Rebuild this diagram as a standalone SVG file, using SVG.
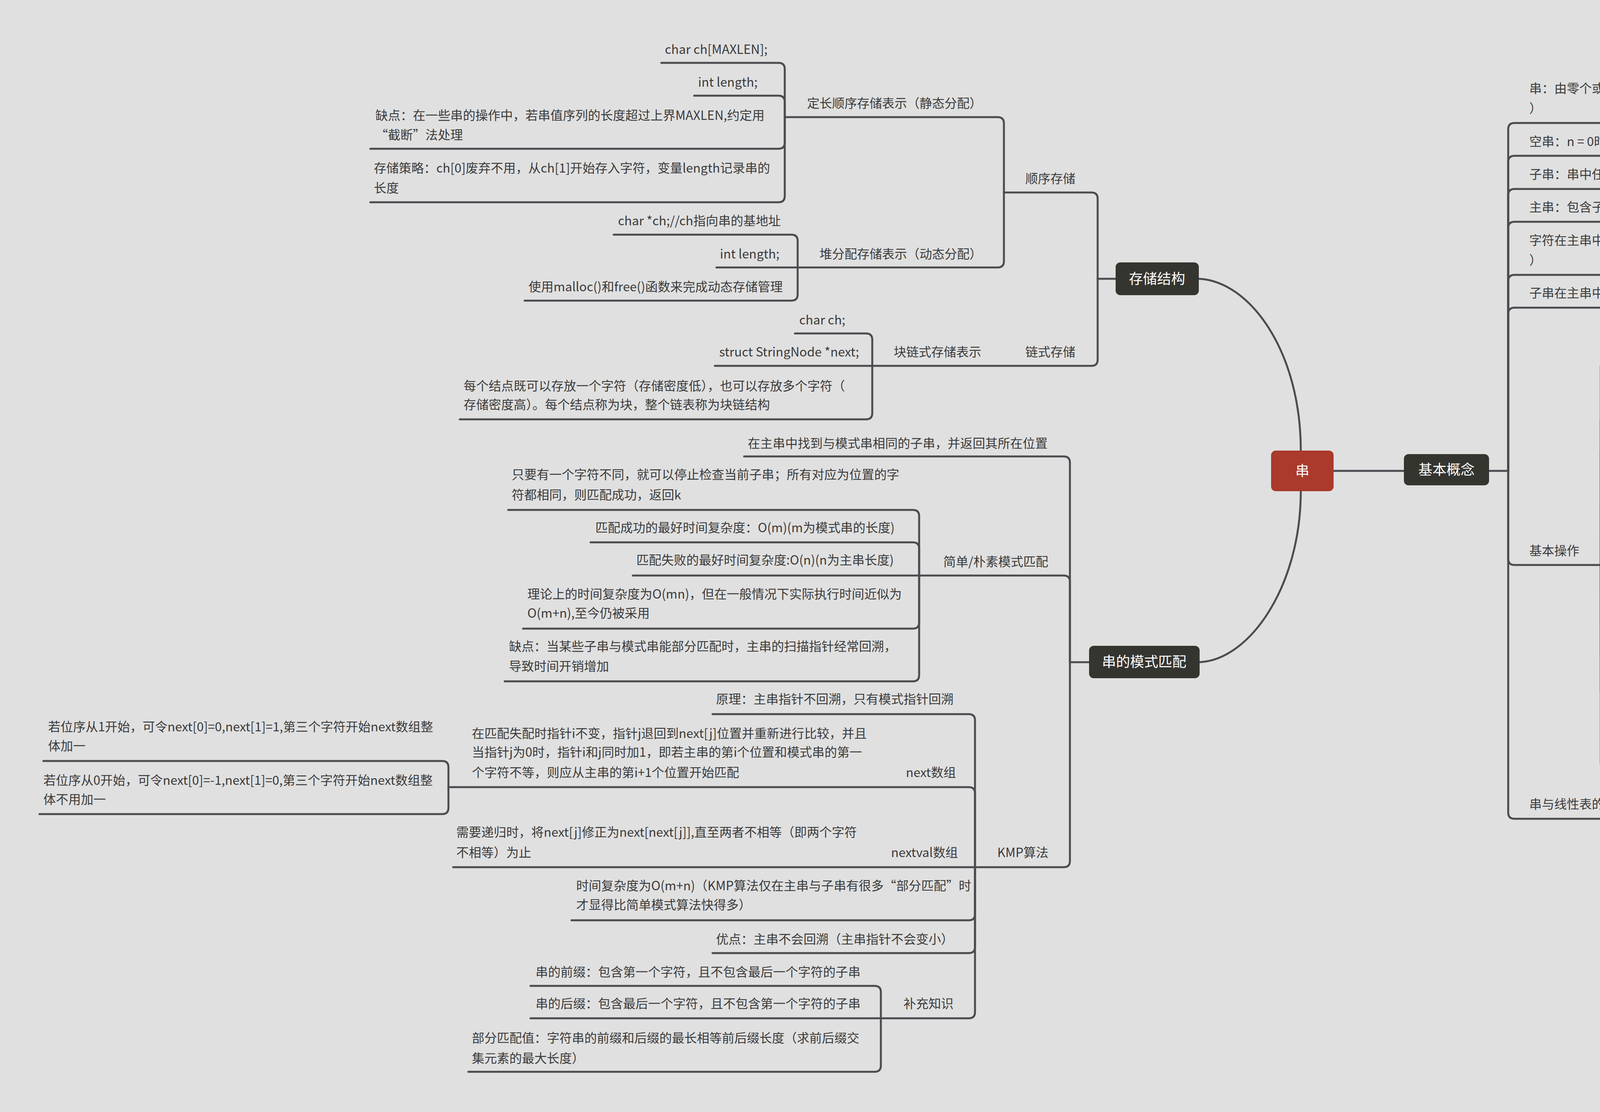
<svg xmlns="http://www.w3.org/2000/svg" width="6226" height="2848" viewBox="0 0 6226 2848">
<style>
.l{fill:none;stroke:#4b4b50;stroke-width:5;stroke-linecap:round}
text{font-family:"Noto Sans CJK SC","Noto Sans",sans-serif;font-size:32px;fill:#3a3a3a}
.n{fill:#ffffff;font-size:36px;text-anchor:middle}
.dk{fill:#353530}
</style>
<rect width="6226" height="2848" fill="#e0e0e0"/>
<g id="connectors">
<path class="l" d="M3069 714 C3200 720 3330 900 3330 1154"/>
<path class="l" d="M3071 1696 C3200 1690 3330 1500 3330 1258"/>
<path class="l" d="M3414 1206 H3594"/>
<path class="l" d="M3812 1206 H3861"/>
<path class="l" d="M3861 1206 V331 Q3861 315 3877 315 H4918"/>
<path class="l" d="M3861 1206 V415 Q3861 399 3877 399 H4639"/>
<path class="l" d="M3861 1206 V500 Q3861 484 3877 484 H4532"/>
<path class="l" d="M3861 1206 V584 Q3861 568 3877 568 H4213"/>
<path class="l" d="M3861 1206 V720 Q3861 704 3877 704 H4921"/>
<path class="l" d="M3861 1206 V804 Q3861 788 3877 788 H4723"/>
<path class="l" d="M3861 1206 V1431 Q3861 1447 3877 1447 H4098"/>
<path class="l" d="M3861 1206 V2081 Q3861 2097 3877 2097 H4227"/>
<path class="l" d="M4098 1447 V940 Q4098 924 4114 924 H5196"/>
<path class="l" d="M4098 1447 V1075 Q4098 1059 4114 1059 H5135"/>
<path class="l" d="M4098 1447 V1160 Q4098 1144 4114 1144 H5037"/>
<path class="l" d="M4098 1447 V1295 Q4098 1279 4114 1279 H5426"/>
<path class="l" d="M4098 1447 V1379 Q4098 1363 4114 1363 H4336"/>
<path class="l" d="M4098 1447 H4438"/>
<path class="l" d="M4098 1447 V1515 Q4098 1531 4114 1531 H4361"/>
<path class="l" d="M4098 1447 V1598 Q4098 1614 4114 1614 H4328"/>
<path class="l" d="M4098 1447 V1683 Q4098 1699 4114 1699 H4382"/>
<path class="l" d="M4098 1447 V1767 Q4098 1783 4114 1783 H4418"/>
<path class="l" d="M4098 1447 V1954 Q4098 1970 4114 1970 H5157"/>
<path class="l" d="M5196 924 V830 Q5196 814 5212 814 H6127"/>
<path class="l" d="M5196 924 V914 Q5196 898 5212 898 H5775"/>
<path class="l" d="M5196 924 V965 Q5196 981 5212 981 H5711"/>
<path class="l" d="M4227 2097 V2071 Q4227 2055 4243 2055 H5251"/>
<path class="l" d="M4227 2097 V2123 Q4227 2139 4243 2139 H5283"/>
<path class="l" d="M2856 714 H2810"/>
<path class="l" d="M2810 714 V509 Q2810 493 2794 493 H2570"/>
<path class="l" d="M2810 714 V921 Q2810 937 2794 937 H2233"/>
<path class="l" d="M2570 493 V316 Q2570 300 2554 300 H2009"/>
<path class="l" d="M2570 493 V669 Q2570 685 2554 685 H2042"/>
<path class="l" d="M2009 300 V177 Q2009 161 1993 161 H1693"/>
<path class="l" d="M2009 300 V261 Q2009 245 1993 245 H1777"/>
<path class="l" d="M2009 300 V365 Q2009 381 1993 381 H948"/>
<path class="l" d="M2009 300 V502 Q2009 518 1993 518 H948"/>
<path class="l" d="M2042 685 V617 Q2042 601 2026 601 H1571"/>
<path class="l" d="M2042 685 H1834"/>
<path class="l" d="M2042 685 V754 Q2042 770 2026 770 H1343"/>
<path class="l" d="M2233 937 V870 Q2233 854 2217 854 H2035"/>
<path class="l" d="M2233 937 H1830"/>
<path class="l" d="M2233 937 V1058 Q2233 1074 2217 1074 H1177"/>
<path class="l" d="M2788 1696 H2739"/>
<path class="l" d="M2739 1696 V1185 Q2739 1169 2723 1169 H1905"/>
<path class="l" d="M2739 1696 V1490 Q2739 1474 2723 1474 H2353"/>
<path class="l" d="M2739 1696 V2205 Q2739 2221 2723 2221 H2496"/>
<path class="l" d="M2353 1474 V1322 Q2353 1306 2337 1306 H1301"/>
<path class="l" d="M2353 1474 V1405 Q2353 1389 2337 1389 H1512"/>
<path class="l" d="M2353 1474 H1620"/>
<path class="l" d="M2353 1474 V1594 Q2353 1610 2337 1610 H1339"/>
<path class="l" d="M2353 1474 V1729 Q2353 1745 2337 1745 H1292"/>
<path class="l" d="M2496 2221 V1845 Q2496 1829 2480 1829 H1824"/>
<path class="l" d="M2496 2221 V2032 Q2496 2016 2480 2016 H1148"/>
<path class="l" d="M2496 2221 H1160"/>
<path class="l" d="M2496 2221 V2341 Q2496 2357 2480 2357 H1463"/>
<path class="l" d="M2496 2221 V2425 Q2496 2441 2480 2441 H1824"/>
<path class="l" d="M2496 2221 V2592 Q2496 2608 2480 2608 H2255"/>
<path class="l" d="M1148 2016 V1965 Q1148 1949 1132 1949 H111"/>
<path class="l" d="M1148 2016 V2069 Q1148 2085 1132 2085 H101"/>
<path class="l" d="M2255 2608 V2541 Q2255 2525 2239 2525 H1358"/>
<path class="l" d="M2255 2608 H1358"/>
<path class="l" d="M2255 2608 V2729 Q2255 2745 2239 2745 H1199"/>
</g>
<g id="n-root"><rect x="3254" y="1154" width="160" height="104" rx="12" fill="#a93a2c"/><text class="n" x="3334" y="1219" font-size="40">串</text></g>
<g id="n-storage"><rect class="dk" x="2856" y="672" width="213" height="84" rx="12"/><text class="n" x="2962" y="727">存储结构</text></g>
<g id="n-concept"><rect class="dk" x="3594" y="1163" width="218" height="80" rx="12"/><text class="n" x="3703" y="1216">基本概念</text></g>
<g id="n-match"><rect class="dk" x="2788" y="1654" width="283" height="83" rx="12"/><text class="n" x="2929" y="1708">串的模式匹配</text></g>
<g id="right-texts">
<text x="3915" y="238">串：由零个或多个字符组成的有限序列（可以为字母、数字或其他字符<tspan x="3915" y="289">）</tspan></text>
<text x="3915" y="374">空串：n = 0时的串（注意：空串与空格串的区别）</text>
<text x="3915" y="458">子串：串中任意个连续的字符组成的子序列</text>
<text x="3915" y="542">主串：包含子串的串</text>
<text x="3915" y="627">字符在主串中的位置：字符在串中的序号（位序从1开始而不是从0开始<tspan x="3915" y="678">）</tspan></text>
<text x="3915" y="762">子串在主串中的位置：子串的第一个字符在主串中的位置</text>
<text x="3915" y="1422">基本操作</text>
<text x="4155" y="847">StrCompare(S,T)：比较操作。若S&gt;T，则返回值&gt;0；若S=T，则返回值<tspan x="4155" y="897">=0；若S&lt;T，则返回值&lt;0</tspan></text>
<text x="5251" y="788">从第一个字符开始往后依次对比，先出现更大字符的串就更大</text>
<text x="5251" y="872">长串的前缀与短串相同时，长串更大</text>
<text x="5251" y="957">只有两个串完全相同时，才相等</text>
<text x="4155" y="982">SubString(&amp;Sub,S,pos,len)：求子串。用Sub返回串S的第pos个字符起<tspan x="4155" y="1034">长度为len的子串</tspan></text>
<text x="4155" y="1118">Concat(&amp;T,S1,S2)：串联接。用T返回由S1和S2联接而成的新串</text>
<text x="4155" y="1254">Index(S,T)：</text>
<text x="4435" y="1202">定位操作。若主串S中存在与串T值相同的子串，则返回它在主串S中第<tspan x="4435" y="1254">一次出现的位置；否则函数值为零</tspan></text>
<text x="4155" y="1336">StrLength(S)</text>
<text x="4155" y="1421">StrAssign(&amp;T,chars)</text>
<text x="4155" y="1505">StrCopy(&amp;T,S)</text>
<text x="4155" y="1589">StrEmpty(S)</text>
<text x="4155" y="1672">ClearString(&amp;S)</text>
<text x="4155" y="1756">DestroyString(&amp;S)</text>
<text x="4155" y="1841">注意点：上述定义操作中，串赋值、串比较、求串长、串联接和求子串<tspan x="4155" y="1892">五种操作构成串类型的最小操作子集，即这些操作不可能利用其他串操</tspan><tspan x="4155" y="1942">作来实现；其他串均可在该最小操作子集上实现</tspan></text>
<text x="3915" y="2071">串与线性表的区别</text>
<text x="4285" y="2028">串的数据对象限定为字符集，线性表的数据对象的数据类型相同即可</text>
<text x="4285" y="2114">串的基本操作大多以子串为操作对象，线性表以单个元素作为操作对象</text>
</g>
<g id="storage-texts">
<text x="2625" y="469">顺序存储</text>
<text x="2066" y="276">定长顺序存储表示（静态分配）</text>
<text x="1702" y="138">char ch[MAXLEN];</text>
<text x="1787" y="222">int length;</text>
<text x="961" y="307">缺点：在一些串的操作中，若串值序列的长度超过上界MAXLEN,约定用<tspan x="961" y="357">“截断”法处理</tspan></text>
<text x="957" y="442">存储策略：ch[0]废弃不用，从ch[1]开始存入字符，变量length记录串的<tspan x="957" y="493">长度</tspan></text>
<text x="2098" y="662">堆分配存储表示（动态分配）</text>
<text x="1582" y="577">char *ch;//ch指向串的基地址</text>
<text x="1843" y="662">int length;</text>
<text x="1353" y="746">使用malloc()和free()函数来完成动态存储管理</text>
<text x="2625" y="913">链式存储</text>
<text x="2288" y="913">块链式存储表示</text>
<text x="2046" y="831">char ch;</text>
<text x="1841" y="913">struct StringNode *next;</text>
<text x="1187" y="1000">每个结点既可以存放一个字符（存储密度低），也可以存放多个字符（<tspan x="1187" y="1048">存储密度高）。每个结点称为块，整个链表称为块链结构</tspan></text>
</g>
<g id="match-texts">
<text x="1914" y="1147">在主串中找到与模式串相同的子串，并返回其所在位置</text>
<text x="2415" y="1450">简单/朴素模式匹配</text>
<text x="1310" y="1227">只要有一个字符不同，就可以停止检查当前子串；所有对应为位置的字<tspan x="1310" y="1279">符都相同，则匹配成功，返回k</tspan></text>
<text x="1524" y="1363">匹配成功的最好时间复杂度：O(m)(m为模式串的长度)</text>
<text x="1629" y="1446">匹配失败的最好时间复杂度:O(n)(n为主串长度)</text>
<text x="1350" y="1533">理论上的时间复杂度为O(mn)，但在一般情况下实际执行时间近似为<tspan x="1350" y="1582">O(m+n),至今仍被采用</tspan></text>
<text x="1303" y="1667">缺点：当某些子串与模式串能部分匹配时，主串的扫描指针经常回溯，<tspan x="1303" y="1718">导致时间开销增加</tspan></text>
<text x="2553" y="2195">KMP算法</text>
<text x="1833" y="1802">原理：主串指针不回溯，只有模式指针回溯</text>
<text x="2319" y="1990">next数组</text>
<text x="1208" y="1890">在匹配失配时指针i不变，指针j退回到next[j]位置并重新进行比较，并且<tspan x="1208" y="1938">当指针j为0时，指针i和j同时加1，即若主串的第i个位置和模式串的第一</tspan><tspan x="1208" y="1990">个字符不等，则应从主串的第i+1个位置开始匹配</tspan></text>
<text x="123" y="1873">若位序从1开始，可令next[0]=0,next[1]=1,第三个字符开始next数组整<tspan x="123" y="1922">体加一</tspan></text>
<text x="111" y="2010">若位序从0开始，可令next[0]=-1,next[1]=0,第三个字符开始next数组整<tspan x="111" y="2059">体不用加一</tspan></text>
<text x="2281" y="2195">nextval数组</text>
<text x="1168" y="2143">需要递归时，将next[j]修正为next[next[j]],直至两者不相等（即两个字符<tspan x="1168" y="2195">不相等）为止</tspan></text>
<text x="1475" y="2280">时间复杂度为O(m+n)（KMP算法仅在主串与子串有很多“部分匹配”时<tspan x="1475" y="2329">才显得比简单模式算法快得多）</tspan></text>
<text x="1833" y="2417">优点：主串不会回溯（主串指针不会变小）</text>
<text x="2313" y="2582">补充知识</text>
<text x="1371" y="2501">串的前缀：包含第一个字符，且不包含最后一个字符的子串</text>
<text x="1371" y="2582">串的后缀：包含最后一个字符，且不包含第一个字符的子串</text>
<text x="1208" y="2670">部分匹配值：字符串的前缀和后缀的最长相等前后缀长度（求前后缀交<tspan x="1208" y="2722">集元素的最大长度）</tspan></text>
</g>
</svg>
